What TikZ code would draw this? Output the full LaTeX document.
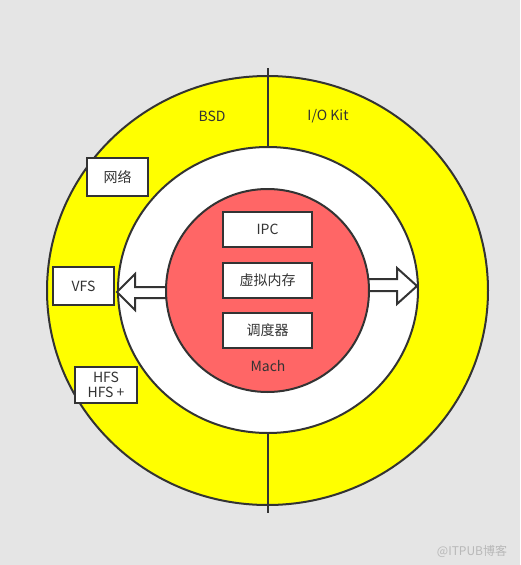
\documentclass[tikz,border=0pt]{standalone}
\usepackage{fontspec}
\setmainfont{Noto Sans CJK SC}
\definecolor{bg}{HTML}{E5E5E5}
\definecolor{ln}{HTML}{333333}
\definecolor{yel}{HTML}{FFFF00}
\definecolor{redc}{HTML}{FF6666}
\begin{document}
\begin{tikzpicture}[x=1pt,y=-1pt,
  txt/.style={font=\fontsize{14}{16}\selectfont, text=ln},
  box/.style={draw=ln, line width=2pt, fill=white, txt, inner sep=0pt, align=center},
  ring/.style={draw=ln, line width=2pt},
  blockarrow/.style={draw=ln, line width=2pt, fill=white, line join=miter}]
\fill[bg] (0,0) rectangle (520,565);
\useasboundingbox (0,0) rectangle (520,565);
% rings
\path[ring, fill=yel] (267.5,290.5) ellipse [x radius=220.5, y radius=214.5];
\coordinate (ltop) at (268,68);
\coordinate (lbot) at (268,513);
\draw[ln, line width=2pt] (ltop) -- (lbot);
\path[ring, fill=white] (268,290) ellipse [x radius=150, y radius=143];
% block arrows
\draw[blockarrow] (170,287) -- (135,287) -- (135,274) -- (117,292) -- (135,310) -- (135,298) -- (170,298);
\draw[blockarrow] (364,279) -- (397,279) -- (397,268) -- (417,286) -- (397,304) -- (397,291) -- (364,291);
\path[ring, fill=redc] (267.5,290.5) circle [radius=101.5];
% labels
\node[txt] (bsd) at (212,116) {BSD};
\node[txt] (iokit) at (328,116) {I/O Kit};
\node[txt] (mach) at (268,366) {Mach};
% boxes
\node[box, minimum width=89pt, minimum height=35pt] (ipc) at (267.5,229.5) {IPC};
\node[box, minimum width=89pt, minimum height=35pt] (vm) at (267.5,280.5) {虚拟内存};
\node[box, minimum width=89pt, minimum height=35pt] (sched) at (267.5,330.5) {调度器};
\node[box, minimum width=61pt, minimum height=38pt] (net) at (117.5,177) {网络};
\node[box, minimum width=61pt, minimum height=38pt] (vfs) at (83.5,286) {VFS};
\node[box, minimum width=62pt, minimum height=36pt, font=\fontsize{14}{15}\selectfont] (hfs) at (106,385) {HFS\\HFS +};
% watermark
\node[font=\fontsize{12}{14}\selectfont, text=black!28] (wm) at (472,551) {@ITPUB博客};
\end{tikzpicture}
\end{document}
